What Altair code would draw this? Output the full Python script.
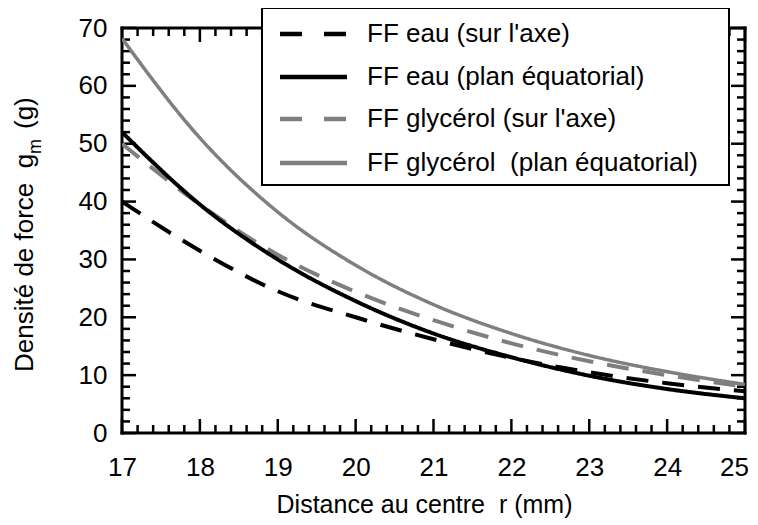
import altair as alt
import pandas as pd

# ---- data ----
r_mm = [17, 18, 19, 20, 21, 22, 23, 24, 25]
eau_axe = [40.0, 31.5, 24.5, 20.0, 16.2, 13.0, 10.5, 8.6, 7.2]
eau_equat = [52.0, 39.5, 30.0, 22.8, 17.2, 13.1, 9.9, 7.6, 6.0]
gly_axe = [50.0, 39.5, 30.8, 24.4, 19.5, 15.5, 12.4, 10.0, 8.0]
gly_equat = [68.2, 51.0, 38.2, 29.0, 22.2, 17.2, 13.4, 10.6, 8.4]

series_names = [
    "FF eau (sur l'axe)",
    "FF eau (plan équatorial)",
    "FF glycérol (sur l'axe)",
    "FF glycérol\u00a0 (plan équatorial)",
]
series_values = [eau_axe, eau_equat, gly_axe, gly_equat]

x_ticks = [17, 18, 19, 20, 21, 22, 23, 24, 25]
y_ticks = [0, 10, 20, 30, 40, 50, 60, 70]
x_minor = [round(17 + 0.2 * i, 1) for i in range(41) if i % 5 != 0]
y_minor = [2 * i for i in range(36) if i % 5 != 0]

# ---- styles ----
W, H = 623, 405
FONT = "Liberation Sans"
colors = ["black", "black", "#7f7f7f", "#7f7f7f"]
dashes = [[22, 14], [1, 0], [22, 14], [1, 0]]
legend_dashes = [[22, 22], [1, 0], [22, 22], [1, 0]]
widths = [4, 4, 4, 3.5]
draw_order = [3, 2, 1, 0]
legend_rows = [6, 49, 91, 135]

xs = alt.Scale(domain=[17, 25], nice=False, zero=False)
ys = alt.Scale(domain=[0, 70], nice=False)

x_axis = alt.Axis(values=x_ticks, format="d", title="Distance au centre\u00a0 r (mm)",
                  domain=False, ticks=False, tickSize=0, grid=False,
                  labelFontSize=26, labelPadding=21, labelFlush=False,
                  labelOffset={"condition": {"test": "datum.value == 25", "value": -11},
                               "value": 0},
                  labelFont=FONT, labelColor="black",
                  titleFont=FONT, titleFontSize=25, titleFontWeight="normal",
                  titleColor="black", titleX=302, titleY=79,
                  titleBaseline="alphabetic", titleAlign="center")
y_axis = alt.Axis(values=y_ticks, format="d", title=None,
                  domain=False, ticks=False, tickSize=0, grid=False,
                  labelFontSize=26, labelPadding=15, labelFlush=False,
                  labelFont=FONT, labelColor="black")

one = pd.DataFrame({"k": [0]})
layers = []

# frame
layers.append(alt.Chart(one).mark_rule(color="black", strokeWidth=3, strokeCap="square").encode(
    x=alt.value(0), x2=alt.value(W), y=alt.value(H)))
layers.append(alt.Chart(one).mark_rule(color="black", strokeWidth=3, strokeCap="square").encode(
    x=alt.value(0), x2=alt.value(W), y=alt.value(0)))
layers.append(alt.Chart(one).mark_rule(color="black", strokeWidth=3, strokeCap="square").encode(
    x=alt.value(0), y=alt.value(0), y2=alt.value(H)))
layers.append(alt.Chart(one).mark_rule(color="black", strokeWidth=3, strokeCap="square").encode(
    x=alt.value(W), y=alt.value(0), y2=alt.value(H)))

# inward ticks
for vals, ln in [(x_ticks, 14), (x_minor, 8)]:
    d = pd.DataFrame({"r": vals})
    layers.append(alt.Chart(d).mark_rule(color="black", strokeWidth=2.5).encode(
        x=alt.X("r:Q", scale=xs, axis=x_axis), y=alt.value(H), y2=alt.value(H - ln)))
    layers.append(alt.Chart(d).mark_rule(color="black", strokeWidth=2.5).encode(
        x=alt.X("r:Q", scale=xs, axis=x_axis), y=alt.value(0), y2=alt.value(ln)))
for vals, ln in [(y_ticks, 14), (y_minor, 8)]:
    d = pd.DataFrame({"g": vals})
    layers.append(alt.Chart(d).mark_rule(color="black", strokeWidth=2.5).encode(
        y=alt.Y("g:Q", scale=ys, axis=y_axis), x=alt.value(0), x2=alt.value(ln)))
    layers.append(alt.Chart(d).mark_rule(color="black", strokeWidth=2.5).encode(
        y=alt.Y("g:Q", scale=ys, axis=y_axis), x=alt.value(W), x2=alt.value(W - ln)))

# curves
for i in draw_order:
    d = pd.DataFrame({"r": r_mm, "g": series_values[i]})
    layers.append(alt.Chart(d).mark_line(
        color=colors[i], strokeDash=dashes[i], strokeWidth=widths[i],
        interpolate="monotone", clip=True).encode(
        x=alt.X("r:Q", scale=xs, axis=x_axis),
        y=alt.Y("g:Q", scale=ys, axis=y_axis)))

# legend box
layers.append(alt.Chart(one).mark_rect(fill="white", stroke="black", strokeWidth=2).encode(
    x=alt.value(140), x2=alt.value(607), y=alt.value(-20), y2=alt.value(157)))
for i in range(4):
    layers.append(alt.Chart(one).mark_rule(
        color=colors[i], strokeDash=legend_dashes[i], strokeWidth=4.5).encode(
        x=alt.value(158), x2=alt.value(225), y=alt.value(legend_rows[i])))
    t = pd.DataFrame({"t": [series_names[i]]})
    layers.append(alt.Chart(t).mark_text(
        align="left", baseline="middle", fontSize=26, font=FONT, color="black").encode(
        x=alt.value(245), y=alt.value(legend_rows[i]), text="t:N"))

# y-axis title with subscript
for txt, xv, yv, fs in [("Densité de force\u00a0 g", -89, 344, 26),
                        ("m", -81, 126, 18),
                        ("(g)", -89, 101, 26)]:
    t = pd.DataFrame({"t": [txt]})
    layers.append(alt.Chart(t).mark_text(
        angle=270, align="left", baseline="alphabetic", fontSize=fs, font=FONT,
        color="black").encode(x=alt.value(xv), y=alt.value(yv), text="t:N"))

chart = alt.layer(*layers).properties(
    width=W, height=H,
    autosize="none",
    padding={"left": 114, "top": 20, "right": 5, "bottom": 85},
).configure_view(stroke=None).configure(background="white")

chart.save("out.html", embed_options={"renderer": "svg", "actions": False})
